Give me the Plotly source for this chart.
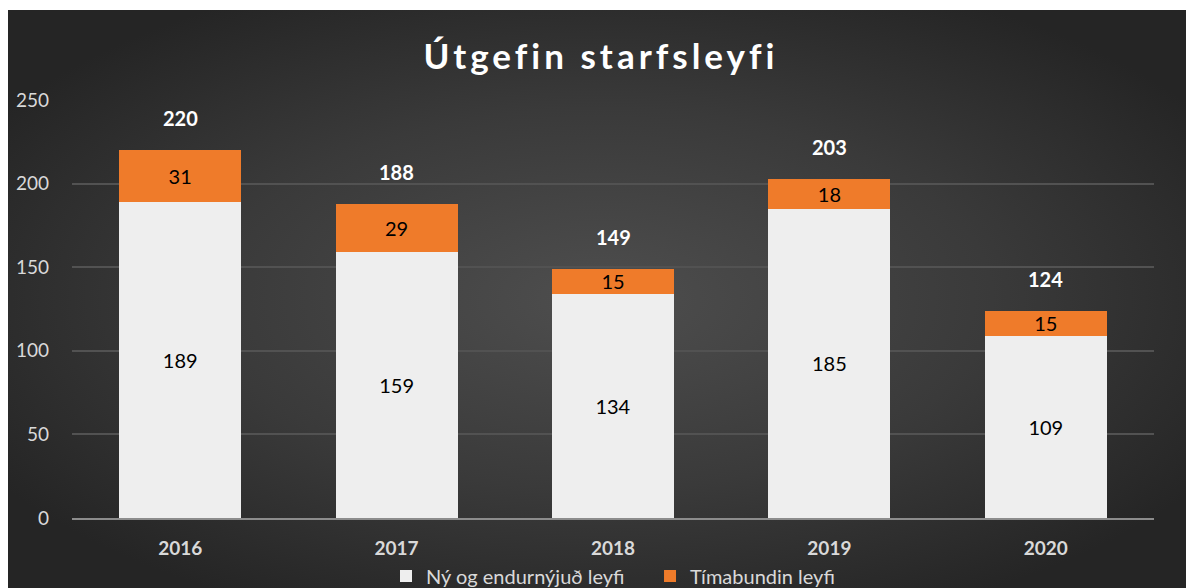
import base64
import plotly.graph_objects as go

years = ["2016", "2017", "2018", "2019", "2020"]
ny_og_endurnyjud = [189, 159, 134, 185, 109]
timabundin = [31, 29, 15, 18, 15]
totals = [220, 188, 149, 203, 124]

FONT = "Lato, 'Open Sans', sans-serif"

# figure sits in the page with the 8px body margin
W, H = 1186, 580
L, R, T, B = 64, 40, 92, 70
pw, ph = W - L - R, H - T - B

svg = """<svg xmlns='http://www.w3.org/2000/svg' width='1186' height='578' viewBox='0 0 1186 578' preserveAspectRatio='none'>
<defs><radialGradient id='g' cx='50%' cy='50%' r='60%' fx='50%' fy='50%'>
<stop offset='0%' stop-color='#4e4e4e'/>
<stop offset='55%' stop-color='#3a3a3a'/>
<stop offset='100%' stop-color='#252525'/>
</radialGradient></defs>
<rect width='1186' height='578' fill='url(#g)'/></svg>"""
bg_src = "data:image/svg+xml;base64," + base64.b64encode(svg.encode()).decode()

fig = go.Figure()
fig.add_trace(go.Bar(
    x=years, y=ny_og_endurnyjud, name="Ný og endurnýjuð leyfi\u00a0\u00a0\u00a0\u00a0",
    marker=dict(color="#eeeeee", line=dict(width=0)),
    text=ny_og_endurnyjud, textposition="inside", insidetextanchor="middle",
    textangle=0, constraintext="none",
    textfont=dict(color="#000000", size=20, family=FONT),
))
fig.add_trace(go.Bar(
    x=years, y=timabundin, name="Tímabundin leyfi",
    marker=dict(color="#ef7b2a", line=dict(width=0)),
    text=timabundin, textposition="inside", insidetextanchor="middle",
    textangle=0, constraintext="none",
    textfont=dict(color="#000000", size=20, family=FONT),
))

# category axis: annotations are placed by category index
for i, t in enumerate(totals):
    fig.add_annotation(x=i, y=t, xref="x", yref="y", text=f"<b>{t}</b>",
                       showarrow=False, yshift=32,
                       font=dict(color="#ffffff", size=20, family=FONT))

x0 = -L / pw
x1 = (W - L) / pw
y0 = (H - B - 2) / ph
y1 = (H - B - H) / ph
fig.add_layout_image(dict(source=bg_src, xref="paper", yref="paper",
                          x=x0, y=y0, sizex=x1 - x0, sizey=y0 - y1,
                          xanchor="left", yanchor="top", sizing="stretch",
                          layer="below"))

fig.update_layout(
    width=W, height=H,
    margin=dict(l=L, r=R, t=T, b=B, autoexpand=False),
    barmode="stack", bargap=0.436,
    paper_bgcolor="#ffffff", plot_bgcolor="rgba(0,0,0,0)",
    title=dict(text="<span style='letter-spacing:4px'><b>Útgefin starfsleyfi</b></span>",
               x=0.5, xanchor="center",
               y=(H - 49) / H, yanchor="middle",
               font=dict(color="#ffffff", size=35, family=FONT)),
    font=dict(family=FONT, color="#d9d9d9"),
    showlegend=True,
    legend=dict(orientation="h", x=0.5, xanchor="center", y=-58 / ph,
                yanchor="middle", font=dict(color="#d9d9d9", size=20, family=FONT),
                bgcolor="rgba(0,0,0,0)", traceorder="normal", itemwidth=30),
)
fig.update_yaxes(range=[0, 250], dtick=50, showgrid=True, gridcolor="#525252", gridwidth=2,
                 zeroline=False, showline=False, ticks="", ticklabelstandoff=22,
                 tickfont=dict(size=19, color="#d9d9d9", family=FONT))
fig.update_xaxes(type="category", categoryorder="array", categoryarray=years,
                 range=[-0.5, len(years) - 0.5],
                 showgrid=False, showline=True, linecolor="#8c8c8c", linewidth=2,
                 ticks="", ticklabelstandoff=12,
                 tickfont=dict(size=19, color="#d9d9d9", family=FONT, weight="bold"))

fig.write_html("out.html")
